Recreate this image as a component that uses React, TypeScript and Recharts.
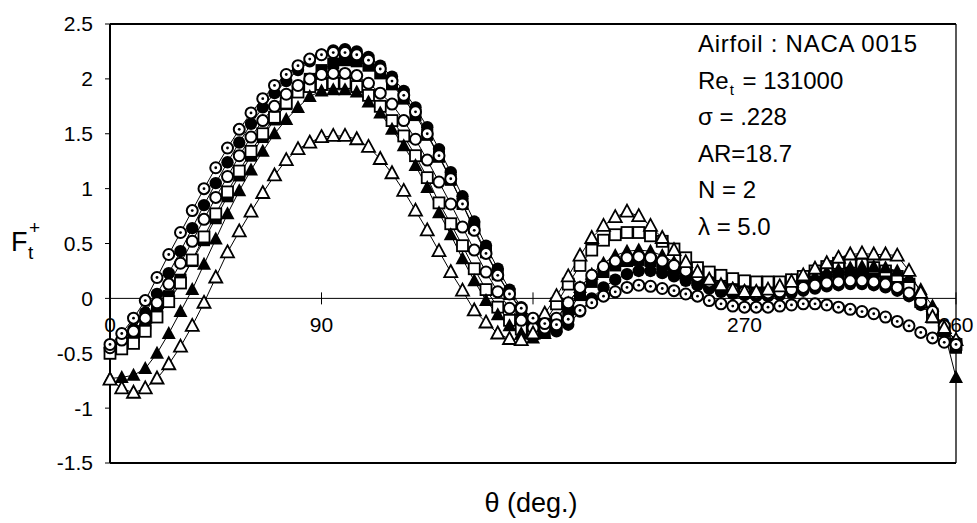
import React from "react";
import { LineChart, Line, XAxis, YAxis, ReferenceLine, ReferenceDot } from "recharts";

const THETA = [0, 5, 10, 15, 20, 25, 30, 35, 40, 45, 50, 55, 60, 65, 70, 75, 80, 85, 90, 95, 100, 105, 110, 115, 120, 125, 130, 135, 140, 145, 150, 155, 160, 165, 170, 175, 180, 185, 190, 195, 200, 205, 210, 215, 220, 225, 230, 235, 240, 245, 250, 255, 260, 265, 270, 275, 280, 285, 290, 295, 300, 305, 310, 315, 320, 325, 330, 335, 340, 345, 350, 355, 360];

const DOT_CIRCLE = [-0.42, -0.32, -0.18, -0.02, 0.19, 0.4, 0.6, 0.8, 1.0, 1.19, 1.37, 1.54, 1.69, 1.82, 1.94, 2.04, 2.12, 2.18, 2.22, 2.24, 2.24, 2.22, 2.17, 2.09, 1.98, 1.85, 1.7, 1.5, 1.3, 1.09, 0.86, 0.62, 0.41, 0.21, 0.04, -0.09, -0.18, -0.23, -0.24, -0.19, -0.11, -0.04, 0.02, 0.06, 0.1, 0.12, 0.11, 0.09, 0.07, 0.04, 0.02, -0.02, -0.05, -0.07, -0.08, -0.08, -0.08, -0.07, -0.06, -0.05, -0.05, -0.06, -0.08, -0.1, -0.12, -0.14, -0.17, -0.21, -0.25, -0.31, -0.36, -0.4, -0.42];

const FILLED_CIRCLE = [-0.48, -0.4, -0.28, -0.13, 0.04, 0.23, 0.43, 0.64, 0.85, 1.05, 1.24, 1.42, 1.59, 1.74, 1.87, 1.98, 2.08, 2.16, 2.22, 2.26, 2.27, 2.25, 2.2, 2.12, 2.02, 1.89, 1.74, 1.56, 1.36, 1.15, 0.93, 0.7, 0.48, 0.27, 0.08, -0.08, -0.2, -0.28, -0.3, -0.24, -0.12, 0.0, 0.1, 0.17, 0.22, 0.25, 0.25, 0.23, 0.2, 0.16, 0.12, 0.09, 0.06, 0.04, 0.03, 0.02, 0.02, 0.03, 0.05, 0.07, 0.09, 0.11, 0.12, 0.13, 0.13, 0.12, 0.1, 0.07, 0.02, -0.06, -0.16, -0.3, -0.42];

const OPEN_CIRCLE = [-0.45, -0.38, -0.3, -0.18, -0.04, 0.13, 0.32, 0.52, 0.72, 0.92, 1.11, 1.3, 1.47, 1.62, 1.75, 1.86, 1.94, 2.0, 2.04, 2.05, 2.05, 2.03, 1.96, 1.87, 1.77, 1.62, 1.45, 1.26, 1.06, 0.86, 0.65, 0.44, 0.24, 0.06, -0.09, -0.2, -0.27, -0.27, -0.18, -0.04, 0.1, 0.21, 0.29, 0.34, 0.37, 0.38, 0.37, 0.34, 0.3, 0.25, 0.2, 0.15, 0.11, 0.08, 0.06, 0.05, 0.05, 0.06, 0.08, 0.1, 0.12, 0.14, 0.15, 0.16, 0.16, 0.15, 0.13, 0.1, 0.05, -0.03, -0.12, -0.25, -0.4];

const FILLED_SQUARE = [-0.5, -0.43, -0.35, -0.23, -0.11, 0.02, 0.17, 0.34, 0.53, 0.73, 0.93, 1.12, 1.3, 1.47, 1.63, 1.77, 1.9, 2.0, 2.08, 2.14, 2.17, 2.16, 2.12, 2.05, 1.95, 1.82, 1.67, 1.49, 1.29, 1.08, 0.86, 0.64, 0.42, 0.22, 0.04, -0.11, -0.23, -0.3, -0.26, -0.12, 0.03, 0.15, 0.24, 0.3, 0.34, 0.35, 0.34, 0.31, 0.27, 0.22, 0.17, 0.13, 0.1, 0.08, 0.07, 0.07, 0.07, 0.08, 0.1, 0.13, 0.16, 0.19, 0.21, 0.22, 0.22, 0.21, 0.19, 0.15, 0.08, -0.02, -0.14, -0.3, -0.45];

const OPEN_SQUARE = [-0.5, -0.46, -0.41, -0.3, -0.17, -0.03, 0.14, 0.35, 0.56, 0.77, 0.97, 1.16, 1.34, 1.5, 1.65, 1.78, 1.88, 1.93, 1.95, 1.96, 1.96, 1.93, 1.85, 1.75, 1.62, 1.48, 1.3, 1.1, 0.87, 0.68, 0.48, 0.27, 0.08, -0.08, -0.2, -0.28, -0.32, -0.22, -0.05, 0.13, 0.3, 0.44, 0.53, 0.58, 0.6, 0.6, 0.57, 0.52, 0.45, 0.37, 0.28, 0.24, 0.21, 0.18, 0.16, 0.15, 0.15, 0.15, 0.17, 0.2, 0.25, 0.29, 0.32, 0.33, 0.31, 0.28, 0.25, 0.2, 0.13, -0.03, -0.17, -0.28, -0.42];

const FILLED_TRIANGLE = [-0.73, -0.72, -0.7, -0.64, -0.5, -0.32, -0.12, 0.08, 0.31, 0.54, 0.77, 0.98, 1.17, 1.34, 1.5, 1.63, 1.74, 1.84, 1.89, 1.9, 1.9, 1.88, 1.79, 1.69, 1.54, 1.39, 1.21, 1.01, 0.78, 0.58, 0.36, 0.16, -0.02, -0.15, -0.25, -0.32, -0.36, -0.32, -0.2, -0.04, 0.1, 0.22, 0.32, 0.39, 0.43, 0.44, 0.43, 0.39, 0.33, 0.27, 0.21, 0.16, 0.12, 0.09, 0.07, 0.06, 0.07, 0.09, 0.12, 0.16, 0.2, 0.24, 0.26, 0.28, 0.29, 0.29, 0.28, 0.25, 0.19, 0.08, -0.07, -0.3, -0.72];

const OPEN_TRIANGLE = [-0.74, -0.82, -0.86, -0.82, -0.73, -0.6, -0.44, -0.25, -0.04, 0.19, 0.42, 0.61, 0.79, 0.96, 1.12, 1.26, 1.36, 1.42, 1.47, 1.48, 1.48, 1.45, 1.38, 1.27, 1.14, 0.98, 0.8, 0.62, 0.43, 0.24, 0.07, -0.11, -0.22, -0.32, -0.37, -0.38, -0.32, -0.14, 0.02, 0.2, 0.39, 0.55, 0.66, 0.74, 0.79, 0.75, 0.66, 0.55, 0.44, 0.33, 0.24, 0.17, 0.12, 0.08, 0.06, 0.06, 0.08, 0.11, 0.15, 0.21, 0.27, 0.32, 0.37, 0.4, 0.41, 0.4, 0.4, 0.39, 0.25, 0.05, -0.17, -0.27, -0.38];

const Y_TICKS = [-1.5, -1, -0.5, 0, 0.5, 1, 1.5, 2, 2.5];
const X_TICKS = [0, 90, 180, 270, 360];
const X_TICK_LABELS = ["0", "90", "", "270", "360"];

const INFO_LINES = ["Airfoil : NACA 0015", "Re_t = 131000", "σ = .228", "AR=18.7", "N = 2", "λ = 5.0"];

const data = THETA.map((t, i) => ({
  theta: t,
  dotCircle: DOT_CIRCLE[i],
  filledCircle: FILLED_CIRCLE[i],
  openCircle: OPEN_CIRCLE[i],
  filledSquare: FILLED_SQUARE[i],
  openSquare: OPEN_SQUARE[i],
  filledTriangle: FILLED_TRIANGLE[i],
  openTriangle: OPEN_TRIANGLE[i],
}));

const FONT = "'Liberation Sans', Arial, sans-serif";

function marker(kind: string) {
  return (p: any) => {
    const { cx, cy, index } = p;
    if (cx == null || cy == null) return <g key={index} />;
    switch (kind) {
      case "dotCircle":
        return (
          <g key={index}>
            <circle cx={cx} cy={cy} r={5.5} fill="#fff" stroke="#000" strokeWidth={2} />
            <circle cx={cx} cy={cy} r={1.4} fill="#000" />
          </g>
        );
      case "filledCircle":
        return <circle key={index} cx={cx} cy={cy} r={6.2} fill="#000" />;
      case "openCircle":
        return <circle key={index} cx={cx} cy={cy} r={5.5} fill="#fff" stroke="#000" strokeWidth={2} />;
      case "filledSquare":
        return <rect key={index} x={cx - 6} y={cy - 6} width={12} height={12} fill="#000" />;
      case "openSquare":
        return <rect key={index} x={cx - 5.5} y={cy - 5.5} width={11} height={11} fill="#fff" stroke="#000" strokeWidth={1.8} />;
      case "filledTriangle":
        return <polygon key={index} points={`${cx},${cy - 7.5} ${cx + 7},${cy + 5.5} ${cx - 7},${cy + 5.5}`} fill="#000" />;
      default:
        return (
          <polygon
            key={index}
            points={`${cx},${cy - 7} ${cx + 6.5},${cy + 5} ${cx - 6.5},${cy + 5}`}
            fill="#fff"
            stroke="#000"
            strokeWidth={1.8}
            strokeLinejoin="miter"
          />
        );
    }
  };
}

const SERIES_ORDER = ["filledCircle", "filledSquare", "openSquare", "filledTriangle", "openCircle", "openTriangle", "dotCircle"];

function xTickShape(label: string) {
  return (p: any) => {
    const { cx, cy } = p;
    if (cx == null || cy == null) return <g />;
    return (
      <g>
        {cx > 115 ? <line x1={cx} x2={cx} y1={cy - 6} y2={cy + 6} stroke="#000" strokeWidth={1} /> : null}
        <text x={cx} y={cy + 34} textAnchor="middle" fontFamily={FONT} fontSize={21} fill="#000">
          {label}
        </text>
      </g>
    );
  };
}

export default function App() {
  const infoY = [44, 80.5, 117, 153.5, 190, 226.5];
  return (
    <div style={{ position: "absolute", left: 0, top: 0, width: 977, height: 523, background: "#fff" }}>
      <LineChart width={977} height={523} data={data} margin={{ top: 24, right: 21, bottom: 60, left: 0 }}>
        <XAxis dataKey="theta" type="number" domain={[0, 360]} hide />
        <YAxis
          type="number"
          domain={[-1.5, 2.5]}
          ticks={Y_TICKS}
          width={110}
          axisLine={{ stroke: "#000", strokeWidth: 2 }}
          tickLine={{ stroke: "#000" }}
          tickSize={5}
          tickMargin={12}
          tick={{ fill: "#000", fontSize: 21, fontFamily: FONT }}
        />
        <ReferenceLine y={2.5} stroke="#000" strokeWidth={2.2} />
        <ReferenceLine y={-1.5} stroke="#000" strokeWidth={2.2} />
        <ReferenceLine x={360} stroke="#000" strokeWidth={1.3} />
        <ReferenceLine y={0} stroke="#000" strokeWidth={1} />
        {X_TICKS.map((t, i) => (
          <ReferenceDot key={t} x={t} y={0} r={0} shape={xTickShape(X_TICK_LABELS[i])} />
        ))}
        {SERIES_ORDER.map((k) => (
          <Line
            key={k}
            dataKey={k}
            type="linear"
            stroke="#000"
            strokeWidth={1}
            dot={marker(k)}
            activeDot={false}
            isAnimationActive={false}
          />
        ))}
      </LineChart>
      <svg width={977} height={523} style={{ position: "absolute", left: 0, top: 0, pointerEvents: "none" }}>
        <g fontFamily={FONT} fill="#000">
          <text x={698} y={infoY[0] + 8} fontSize={24} textLength={219} lengthAdjust="spacing">{INFO_LINES[0]}</text>
          <text x={698} y={infoY[1] + 8} fontSize={24}>
            Re<tspan dx={1} dy={6} fontSize={15}>t</tspan>
            <tspan dx={2} dy={-6}>{INFO_LINES[1].replace("Re_t", "")}</tspan>
          </text>
          <text x={698} y={infoY[2] + 8} fontSize={24}>{INFO_LINES[2]}</text>
          <text x={698} y={infoY[3] + 8} fontSize={24}>{INFO_LINES[3]}</text>
          <text x={698} y={infoY[4] + 8} fontSize={24}>{INFO_LINES[4]}</text>
          <text x={698} y={infoY[5] + 8} fontSize={24}>{INFO_LINES[5]}</text>
          <text x={11} y={251} fontSize={27}>F</text>
          <text x={28} y={259} fontSize={19}>t</text>
          <text x={29} y={234} fontSize={19}>+</text>
          <text x={531} y={512} fontSize={27} textAnchor="middle">θ (deg.)</text>
        </g>
      </svg>
    </div>
  );
}
